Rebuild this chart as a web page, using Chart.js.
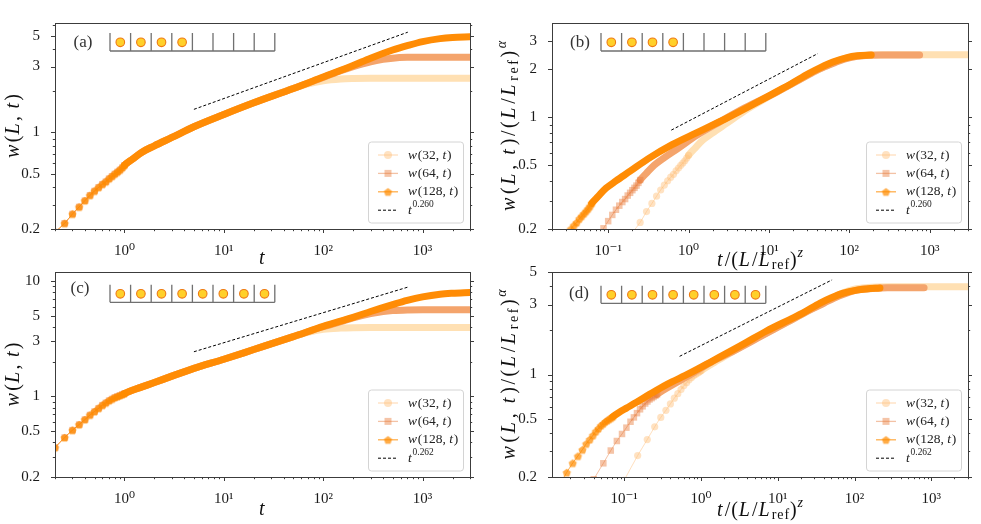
<!DOCTYPE html>
<html>
<head>
<meta charset="utf-8">
<script src="https://cdn.jsdelivr.net/npm/chart.js@4.4.0/dist/chart.umd.min.js"></script>
<style>
  html, body { margin: 0; padding: 0; background: #fff; overflow: hidden; }
  #wrap { position: relative; width: 981px; height: 524px; }
  #wrap canvas { position: absolute; }
</style>
</head>
<body>
<div id="wrap">
  <canvas id="pa" width="490" height="276" style="left:0;top:0"></canvas>
  <canvas id="pb" width="491" height="276" style="left:490px;top:0"></canvas>
  <canvas id="pc" width="490" height="268" style="left:0;top:256px"></canvas>
  <canvas id="pd" width="491" height="268" style="left:490px;top:256px"></canvas>
</div>
<script>
// ---- data: [t, w] pairs ----
// short-time part, shared by all L (panels a and c)
const earlyA = [[0.2,0.19],[0.25,0.22],[0.3,0.257],[0.35,0.289],[0.4,0.321],[0.45,0.351],[0.5,0.377],[0.55,0.401],[0.6,0.422],[0.65,0.44],[0.7,0.463],[0.75,0.482],[0.8,0.501],[0.85,0.518],[0.9,0.535],[0.95,0.556],[1.0,0.579]];
const aW32 = earlyA.concat([[1.2,0.64],[1.5,0.72],[2,0.8],[3,0.92],[5,1.1],[10,1.35],[20,1.64],[40,1.97],[70,2.25],[100,2.37],[150,2.44],[200,2.46],[300,2.47],[3000,2.47]]);
const aW64 = earlyA.concat([[1.2,0.64],[1.5,0.72],[2,0.8],[3,0.92],[5,1.1],[10,1.35],[20,1.64],[50,2.08],[100,2.5],[150,2.8],[200,3.0],[300,3.25],[400,3.38],[500,3.45],[700,3.5],[1000,3.51],[3000,3.51]]);
const aW128 = earlyA.concat([[1.2,0.64],[1.5,0.72],[2,0.8],[3,0.92],[5,1.1],[10,1.35],[20,1.64],[50,2.08],[100,2.52],[200,3.05],[300,3.45],[500,3.95],[700,4.25],[1000,4.55],[1500,4.78],[2000,4.87],[3000,4.92]]);
const aFit = [[5,1.47],[710,5.32]];

// panel b: rescaled axes (L_ref = 32, so w(32,t) is unchanged)
const bW32 = aW32;
const bW64 = [[0.075,0.18],[0.0875,0.202],[0.1,0.224],[0.1125,0.245],[0.125,0.264],[0.1375,0.28],[0.15,0.295],[0.1625,0.308],[0.175,0.324],[0.1875,0.337],[0.2,0.35],[0.2125,0.362],[0.225,0.374],[0.2375,0.389],[0.25,0.405],[0.3,0.448],[0.375,0.503],[0.5,0.56],[0.75,0.643],[1.25,0.77],[2.5,0.944],[5,1.147],[12.5,1.44],[25,1.74],[37.5,1.95],[50,2.08],[75,2.26],[100,2.36],[125,2.41],[175,2.45],[250,2.46],[750,2.46]];
const bW128 = [[0.0281,0.175],[0.03125,0.189],[0.0344,0.2],[0.0375,0.211],[0.0406,0.22],[0.0438,0.232],[0.0469,0.241],[0.05,0.25],[0.0531,0.259],[0.0563,0.268],[0.0594,0.278],[0.0625,0.29],[0.075,0.32],[0.094,0.36],[0.125,0.4],[0.1875,0.46],[0.3125,0.55],[0.625,0.675],[1.25,0.8],[3.125,1.0],[6.25,1.2],[12.5,1.45],[18.75,1.62],[31.25,1.88],[43.75,2.05],[62.5,2.22],[93.75,2.37],[125,2.43],[187.5,2.46]];
const bFit = [[0.61,0.832],[40.6,2.51]];

const earlyC = [[0.1,0.19],[0.15,0.28],[0.2,0.36],[0.25,0.44],[0.3,0.51],[0.35,0.57],[0.4,0.63],[0.45,0.69],[0.5,0.74],[0.55,0.79],[0.6,0.84],[0.65,0.88],[0.7,0.92],[0.75,0.95],[0.8,0.98],[0.85,1.0],[0.9,1.02],[0.95,1.04],[1.0,1.06]];
const cW32 = earlyC.concat([[1.2,1.13],[1.5,1.21],[2,1.32],[3,1.5],[5,1.75],[10,2.1],[20,2.55],[40,3.1],[70,3.6],[100,3.82],[150,3.92],[200,3.95],[300,3.96],[3000,3.96]]);
const cW64 = earlyC.concat([[1.2,1.13],[1.5,1.21],[2,1.32],[3,1.5],[5,1.75],[10,2.1],[20,2.55],[50,3.3],[100,4.02],[150,4.45],[200,4.8],[300,5.22],[400,5.45],[500,5.56],[700,5.63],[1000,5.65],[3000,5.65]]);
const cW128 = earlyC.concat([[1.2,1.13],[1.5,1.21],[2,1.32],[3,1.5],[5,1.75],[10,2.1],[20,2.55],[50,3.3],[100,4.05],[200,4.85],[300,5.45],[500,6.25],[700,6.8],[1000,7.3],[1500,7.7],[2000,7.85],[3000,7.98]]);
const cFit = [[5,2.44],[710,8.87]];

const dW32 = cW32;
const dW64 = [[0.0268,0.131],[0.0402,0.193],[0.0536,0.248],[0.067,0.303],[0.0804,0.352],[0.0938,0.393],[0.107,0.434],[0.121,0.476],[0.134,0.51],[0.147,0.545],[0.161,0.579],[0.174,0.607],[0.188,0.634],[0.201,0.655],[0.214,0.676],[0.228,0.69],[0.241,0.703],[0.255,0.717],[0.268,0.731],[0.322,0.779],[0.402,0.834],[0.536,0.91],[0.804,1.03],[1.34,1.21],[2.68,1.45],[5.36,1.76],[13.4,2.28],[26.8,2.77],[40.2,3.07],[53.6,3.31],[80.4,3.6],[107,3.76],[134,3.83],[188,3.88],[268,3.9],[804,3.9]];
const dW128 = [[0.0107,0.137],[0.0143,0.176],[0.0179,0.215],[0.0214,0.249],[0.025,0.278],[0.0286,0.307],[0.0321,0.337],[0.0357,0.361],[0.0393,0.385],[0.0429,0.41],[0.0464,0.429],[0.05,0.449],[0.0536,0.463],[0.0571,0.478],[0.0607,0.488],[0.0643,0.498],[0.0679,0.507],[0.0714,0.517],[0.0857,0.551],[0.107,0.59],[0.143,0.644],[0.214,0.732],[0.357,0.854],[0.714,1.02],[1.43,1.24],[3.57,1.61],[7.14,1.98],[14.3,2.37],[21.4,2.63],[35.7,3.07],[50,3.34],[71.4,3.59],[107,3.76],[143,3.83],[214,3.89]];
const dFit = [[0.527,1.33],[51,4.42]];

// ---- look ----
const SERIF = '"Liberation Serif", "DejaVu Serif", serif';
const C32 = { line: 'rgba(255,185,110,0.45)', fill: 'rgba(255,190,120,0.45)', band: '#ffe0b3', r: 3.6 };
const C64 = { line: 'rgba(228,120,55,0.45)', fill: 'rgba(232,125,60,0.45)', band: '#f4a46c', r: 4.6 };
const C128 = { line: 'rgba(255,140,0,0.7)', fill: 'rgba(255,140,0,0.72)', band: '#ff8c05', r: 3.8 };

function pentagon(fill, r) {
  const c = document.createElement('canvas');
  const s = Math.ceil(r * 2 + 2);
  c.width = s; c.height = s;
  const g = c.getContext('2d');
  g.beginPath();
  for (let k = 0; k < 5; k++) {
    const a = -Math.PI / 2 + k * 2 * Math.PI / 5;
    const px = s / 2 + r * Math.cos(a), py = s / 2 + 0.5 + r * Math.sin(a);
    if (k) g.lineTo(px, py); else g.moveTo(px, py);
  }
  g.closePath();
  g.fillStyle = fill;
  g.fill();
  return c;
}
const PENT = pentagon(C128.fill, 4.3);

function font(size, italic) {
  return (italic ? 'italic ' : '') + size + 'px ' + SERIF;
}

// small mixed-style text: [text, kind] with kind i / r / sub / sup / supi.
// if target is given, letters are spread so the whole string gets that length
function drawRich(ctx, parts, x, y, size, align, target) {
  const ps = parts.map(([t, k]) => {
    const small = k === 'sub' || k === 'sup' || k === 'supi';
    const f = font(small ? size * 0.7 : size, k === 'i' || k === 'supi');
    ctx.font = f;
    const dy = k === 'sub' ? size * 0.24 : (small ? -size * 0.4 : 0);
    const extra = k === 'i' ? size * 0.06 : 0;
    const chars = t.split('').map(ch => ({ ch, w: ctx.measureText(ch).width }));
    return { f, chars, extra, dy };
  });
  let natural = 0, count = 0;
  ps.forEach(p => { p.chars.forEach(c => { natural += c.w; count++; }); natural += p.extra; });
  const ls = target ? Math.max(0, (target - natural) / Math.max(1, count - 1)) : 0;
  const total = natural + ls * (count - 1);
  let cx = align === 'center' ? x - total / 2 : x;
  ctx.textAlign = 'left';
  ctx.textBaseline = 'middle';
  ps.forEach(p => {
    ctx.font = p.f;
    p.chars.forEach(c => { ctx.fillText(c.ch, cx, y + p.dy); cx += c.w + ls; });
    cx += p.extra;
  });
}

const yTitlePlain = [['w','i'],['(','r'],['L','i'],[', ','r'],['t','i'],[')','r']];
const yTitleScaled = [['w','i'],['(','r'],['L','i'],[', ','r'],['t','i'],[')/(','r'],['L','i'],['/','r'],['L','i'],['ref','sub'],[')','r'],['α','supi']];
const xTitlePlain = [['t','i']];
const xTitleScaled = [['t','i'],['/(','r'],['L','i'],['/','r'],['L','i'],['ref','sub'],[')','r'],['z','supi']];

function logVals(min, max) {
  const out = [];
  for (let e = Math.floor(Math.log10(min)); e <= Math.ceil(Math.log10(max)); e++) {
    for (let m = 1; m < 10; m++) {
      const v = m * Math.pow(10, e);
      if (v >= min * 0.999 && v <= max * 1.001) out.push(v);
    }
  }
  return out;
}
const isIn = (v, list) => list.some(u => Math.abs(u - v) / u < 1e-6);

const SUP = { '-': '⁻', '0': '⁰', '1': '¹', '2': '²', '3': '³' };
const powLabel = v => '10' + String(Math.round(Math.log10(v))).split('').map(ch => SUP[ch]).join('');

function series(pairs, col, style, bandFrom, order) {
  return {
    data: pairs.map(p => ({ x: p[0], y: p[1] })),
    order,
    clip: 0,
    borderColor: col.line,
    borderWidth: 1,
    borderCapStyle: 'round',
    borderJoinStyle: 'round',
    cubicInterpolationMode: 'monotone',
    pointStyle: style,
    pointBackgroundColor: col.fill,
    pointBorderWidth: 0,
    pointRadius: c => (c.raw && c.raw.x > bandFrom + 1e-9) ? 0 : col.r,
    segment: {
      borderWidth: c => c.p0.parsed.x >= bandFrom - 1e-9 ? 7 : 1,
      borderColor: c => c.p0.parsed.x >= bandFrom - 1e-9 ? col.band : col.line
    }
  };
}

function decor(p) {
  return {
    id: 'decor',
    afterDraw(chart) {
      const { ctx, chartArea: a, scales } = chart;
      const xs = scales.x, ys = scales.y;
      ctx.save();
      // frame
      ctx.strokeStyle = '#3c3c3c';
      ctx.lineWidth = 1;
      ctx.strokeRect(Math.round(a.left) + 0.5, Math.round(a.top) + 0.5, Math.round(a.right - a.left), Math.round(a.bottom - a.top));
      // tick marks
      ctx.beginPath();
      logVals(p.xMin, p.xMax).forEach(v => {
        const px = Math.round(xs.getPixelForValue(v)) + 0.5;
        const len = isIn(v, p.xMajor) ? 4 : 2.2;
        ctx.moveTo(px, a.bottom); ctx.lineTo(px, a.bottom + len);
      });
      logVals(p.yMin, p.yMax).forEach(v => {
        const py = Math.round(ys.getPixelForValue(v)) + 0.5;
        const len = isIn(v, p.yMajor) ? 4 : 2.2;
        ctx.moveTo(a.left - len, py); ctx.lineTo(a.left, py);
        ctx.moveTo(a.right, py); ctx.lineTo(a.right + len, py);
      });
      ctx.stroke();

      // inset: chain of cells with particles
      const bx = a.left + p.box[0], bt = a.top + p.box[1], bb = a.top + p.box[2];
      const cell = 20.6;
      ctx.strokeStyle = '#707070';
      ctx.lineWidth = 1.3;
      ctx.beginPath();
      ctx.moveTo(bx, bb); ctx.lineTo(bx + 8 * cell, bb);
      for (let k = 0; k <= 8; k++) { ctx.moveTo(bx + k * cell, bt); ctx.lineTo(bx + k * cell, bb); }
      ctx.stroke();
      for (let k = 0; k < p.filled; k++) {
        ctx.beginPath();
        ctx.arc(bx + (k + 0.5) * cell, (bt + bb) / 2 + 0.3, 4.3, 0, 2 * Math.PI);
        ctx.fillStyle = '#ffd02a';
        ctx.fill();
        ctx.strokeStyle = '#ee7a12';
        ctx.lineWidth = 1.1;
        ctx.stroke();
      }
      ctx.fillStyle = '#333';
      ctx.font = font(17, false);
      ctx.textAlign = 'center';
      ctx.textBaseline = 'middle';
      ctx.fillText(p.tag, a.left + p.label[0], a.top + p.label[1]);

      // legend
      const lw = 95, lh = 81;
      const lx = a.right - 7 - lw, ly = a.bottom - 6.5 - lh;
      ctx.beginPath();
      ctx.roundRect(lx + 0.5, ly + 0.5, lw, lh, 3);
      ctx.fillStyle = 'rgba(255,255,255,0.8)';
      ctx.fill();
      ctx.strokeStyle = '#d4d4d4';
      ctx.lineWidth = 1;
      ctx.stroke();
      const rows = [
        { col: C32, mk: 'circle', parts: [['w','i'],['(32, ','r'],['t','i'],[')','r']] },
        { col: C64, mk: 'rect', parts: [['w','i'],['(64, ','r'],['t','i'],[')','r']] },
        { col: C128, mk: 'pent', parts: [['w','i'],['(128, ','r'],['t','i'],[')','r']] },
        { dash: true, parts: [['t','i'],[p.expo,'sup']] }
      ];
      rows.forEach((r, i) => {
        const y = ly + 13.5 + i * 18.4;
        ctx.beginPath();
        ctx.moveTo(lx + 10, y); ctx.lineTo(lx + 30, y);
        if (r.dash) { ctx.setLineDash([3, 2]); ctx.strokeStyle = '#000'; ctx.lineWidth = 1; }
        else { ctx.setLineDash([]); ctx.strokeStyle = r.col.line; ctx.lineWidth = 1.3; }
        ctx.stroke();
        ctx.setLineDash([]);
        ctx.fillStyle = r.col ? r.col.fill : '#000';
        if (r.mk === 'circle') { ctx.beginPath(); ctx.arc(lx + 20, y, 4, 0, 2 * Math.PI); ctx.fill(); }
        if (r.mk === 'rect') ctx.fillRect(lx + 16.5, y - 3.5, 7, 7);
        if (r.mk === 'pent') ctx.drawImage(PENT, lx + 20 - PENT.width / 2, y - PENT.height / 2);
        ctx.fillStyle = '#222';
        drawRich(ctx, r.parts, lx + 40, y, 13.5, 'left');
      });

      // axis titles
      ctx.fillStyle = '#111';
      drawRich(ctx, p.scaled ? xTitleScaled : xTitlePlain, (a.left + a.right) / 2, p.xTitleY, 20, 'center', p.scaled ? 86 : 0);
      ctx.save();
      ctx.translate(p.yTitleX, (a.top + a.bottom) / 2);
      ctx.rotate(-Math.PI / 2);
      drawRich(ctx, p.scaled ? yTitleScaled : yTitlePlain, 0, 0, 20, 'center', p.scaled ? 170 : 64);
      ctx.restore();
      ctx.restore();
    }
  };
}

function makePanel(id, p) {
  const datasets = [
    series(p.w32, C32, 'circle', p.band[0], 3),
    series(p.w64, C64, 'rect', p.band[1], 2),
    series(p.w128, C128, PENT, p.band[2], 1),
    {
      data: p.fit.map(q => ({ x: q[0], y: q[1] })),
      order: 0, borderColor: '#000', borderWidth: 1, borderDash: [3, 2], pointRadius: 0, clip: 0
    }
  ];
  const tickFont = { family: SERIF, size: 15 };
  return new Chart(document.getElementById(id), {
    type: 'line',
    data: { datasets },
    options: {
      responsive: false,
      animation: false,
      devicePixelRatio: 1,
      layout: { padding: { top: p.padTop, right: p.padRight, left: 0, bottom: 0 } },
      plugins: { legend: { display: false }, tooltip: { enabled: false } },
      scales: {
        x: {
          type: 'logarithmic', position: 'bottom', min: p.xMin, max: p.xMax,
          grid: { display: false }, border: { display: false },
          ticks: { font: tickFont, color: '#1a1a1a', padding: 5, maxRotation: 0, autoSkip: false, callback: v => powLabel(v) },
          afterBuildTicks: s => { s.ticks = p.xMajor.map(v => ({ value: v })); },
          afterFit: s => { s.height = p.xH; }
        },
        y: {
          type: 'logarithmic', position: 'left', min: p.yMin, max: p.yMax,
          grid: { display: false }, border: { display: false },
          ticks: { font: tickFont, color: '#1a1a1a', padding: 7, autoSkip: false, callback: v => String(v) },
          afterBuildTicks: s => { s.ticks = p.yMajor.map(v => ({ value: v })); },
          afterFit: s => { s.width = p.yW; }
        }
      }
    },
    plugins: [decor(p)]
  });
}

makePanel('pa', {
  w32: aW32, w64: aW64, w128: aW128, fit: aFit, band: [1, 1, 1],
  xMin: 0.2, xMax: 3000, yMin: 0.2, yMax: 6.2, xMajor: [1, 10, 100, 1000], yMajor: [0.2, 0.5, 1, 3, 5],
  yW: 55, xH: 47, padTop: 23, padRight: 20, scaled: false, yTitleX: 14, xTitleY: 259,
  tag: '(a)', filled: 4, label: [28, 20], box: [55, 10, 28], expo: '0.260'
});
makePanel('pb', {
  w32: bW32, w64: bW64, w128: bW128, fit: bFit, band: [1, 0.25, 0.0625],
  xMin: 0.02, xMax: 3000, yMin: 0.2, yMax: 3.9, xMajor: [0.1, 1, 10, 100, 1000], yMajor: [0.2, 0.5, 1, 2, 3],
  yW: 62, xH: 47, padTop: 23, padRight: 13, scaled: true, yTitleX: 20, xTitleY: 261,
  tag: '(b)', filled: 4, label: [28, 20], box: [49, 10, 28], expo: '0.260'
});
makePanel('pc', {
  w32: cW32, w64: cW64, w128: cW128, fit: cFit, band: [1, 1, 1],
  xMin: 0.2, xMax: 3000, yMin: 0.2, yMax: 12, xMajor: [1, 10, 100, 1000], yMajor: [0.2, 0.5, 1, 3, 5, 10],
  yW: 55, xH: 47, padTop: 14, padRight: 20, scaled: false, yTitleX: 14, xTitleY: 254,
  tag: '(c)', filled: 8, label: [25, 17], box: [55, 12.7, 30.3], expo: '0.262'
});
makePanel('pd', {
  w32: dW32, w64: dW64, w128: dW128, fit: dFit, band: [1, 0.268, 0.0714],
  xMin: 0.0115, xMax: 3000, yMin: 0.2, yMax: 5, xMajor: [0.1, 1, 10, 100, 1000], yMajor: [0.2, 0.5, 1, 3, 5],
  yW: 62, xH: 47, padTop: 14, padRight: 13, scaled: true, yTitleX: 20, xTitleY: 255,
  tag: '(d)', filled: 8, label: [27, 22], box: [49, 13.7, 31.3], expo: '0.262'
});
</script>
</body>
</html>
